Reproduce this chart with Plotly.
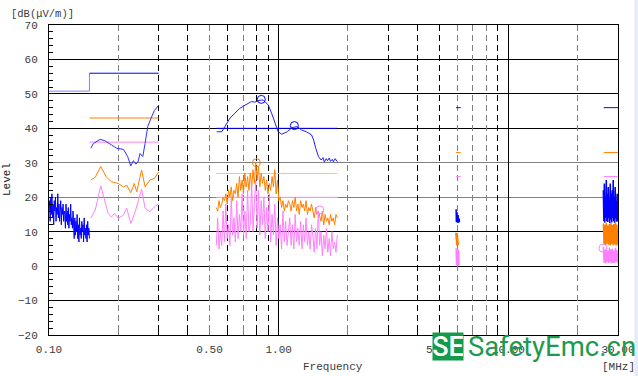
import numpy as np
import plotly.graph_objects as go

# ---------------- data ----------------
# Band A: 0.10 - 0.15 MHz, peak detector sweep (blue)
band_a_range = [0.100, 0.150]
peak_a = [16, 19, 13, 20, 15, 21, 14, 18, 12, 19, 16, 20, 13, 17, 15, 21, 14, 18, 13, 16,
          19, 12, 17, 15, 18, 13, 16,
          15, 11, 18, 13, 16, 12, 17, 11, 15, 13, 18, 12, 14, 11, 16,
          12, 8, 14, 9, 13, 10, 15, 8, 12, 7, 14, 9, 11, 8, 13, 10, 12, 7, 14, 9, 11, 8,
          12, 7, 13, 9, 11, 8]

# Band B: 0.15 - 0.30 MHz
peak_b_freq = [0.152, 0.156, 0.167, 0.175, 0.187, 0.197, 0.211, 0.220, 0.227, 0.233,
               0.239, 0.244, 0.249, 0.256, 0.262, 0.269, 0.278, 0.287, 0.301]
peak_b = [34.2, 35.6, 36.8, 36.4, 35.2, 34.2, 33.9, 31.8, 29.1, 30.6,
          29.6, 30.2, 32.7, 31.8, 35.6, 40.5, 42.9, 45.1, 46.8]
qp_b_freq = [0.152, 0.159, 0.168, 0.178, 0.187, 0.200, 0.211, 0.218, 0.227, 0.235,
             0.241, 0.253, 0.262, 0.275, 0.288, 0.301]
qp_b = [25.0, 25.8, 28.9, 25.8, 24.5, 24.0, 23.0, 23.5, 21.3, 24.0,
        21.6, 27.9, 23.0, 25.0, 25.5, 27.4]
avg_b_freq = [0.152, 0.159, 0.168, 0.174, 0.181, 0.187, 0.193, 0.200, 0.211, 0.218,
              0.227, 0.236, 0.246, 0.253, 0.262, 0.275, 0.288, 0.301]
avg_b = [13.9, 16.3, 23.3, 19.2, 15.3, 14.2, 15.3, 13.9, 14.8, 16.8,
         12.4, 15.3, 19.2, 22.3, 16.8, 15.8, 17.2, 18.2]

# Band C: 0.535 - 1.8 MHz
peak_c_freq = [0.537, 0.565, 0.583, 0.613, 0.644, 0.677, 0.713, 0.762, 0.787, 0.829,
               0.858, 0.900, 0.931, 0.962, 0.995, 1.03, 1.09, 1.14, 1.20, 1.26,
               1.32, 1.39, 1.42, 1.45, 1.49, 1.53, 1.56, 1.58, 1.61, 1.63,
               1.66, 1.68, 1.71, 1.73, 1.76, 1.80]
peak_c = [39.0, 39.0, 40.5, 42.9, 44.4, 45.8, 46.7, 47.8, 47.6, 48.2,
          48.2, 46.8, 44.4, 41.5, 39.0, 38.3, 39.0, 40.2, 40.5, 39.5,
          39.0, 38.1, 36.6, 34.2, 31.8, 30.8, 31.5, 30.2, 31.2, 30.6,
          31.4, 30.4, 31.0, 30.3, 31.2, 30.3]
band_c_range = [0.535, 1.80]
qp_c = [17, 16, 19, 17, 18, 20,
        19, 21, 18, 22, 20, 23, 19, 22, 21,
        24, 20, 26, 22, 25, 21, 27, 23, 26, 22,
        27, 23, 28, 24, 30,
        25, 29, 23, 27, 24,
        26, 22, 25, 21, 24, 22, 26, 23,
        28, 21, 25, 19,
        20, 17, 19, 16, 18, 17, 19,
        18, 16, 19, 17, 20, 16, 18, 15, 19, 17, 18, 16, 19, 15, 17, 16, 18,
        16, 14, 17, 15, 16,
        14, 13, 16, 12, 15, 13, 14, 12, 15, 13, 14, 12, 15, 14]
avg_c = [6, 14, 5, 10, 6, 16,
         7, 18, 8, 12, 6, 20, 9, 14, 7,
         19, 8, 15, 10, 21, 9, 16, 8, 22, 10,
         12, 24, 10, 18, 25,
         11, 22, 9, 19, 12,
         20, 8, 17, 10, 21, 7, 15, 9,
         18, 6, 14, 8,
         12, 5, 16, 7, 13, 6, 11,
         14, 6, 12, 5, 15, 7, 11, 6, 13, 5, 12, 7, 14, 6, 10, 5, 12,
         9, 4, 11, 5, 16,
         6, 10, 3, 9, 5, 11, 4, 8, 3, 10, 5, 7, 4, 9]

# Band D: around 6 MHz
peak_d_range = [5.92, 6.12]
peak_d = [16.5, 12.8, 16.0, 13.2, 15.6, 12.6, 15.2, 13.4, 14.8, 12.6, 14.4, 13.0, 13.8, 12.8]
qp_d_range = [5.90, 6.05]
qp_d = [9.7, 6.2, 9.5, 6.0, 9.6, 6.3, 9.4, 6.1]
avg_d_range = [5.92, 6.10]
avg_d = [5.2, 0.2, 4.8, 0.3, 5.0, 0.1, 4.6, 0.2]

# Band E: 26 - 30 MHz
band_e_range = [25.9, 29.9]
peak_e = [22, 13, 24, 12.6, 20, 14, 25, 13, 21, 12.8, 23, 14, 19, 12.5, 24,
          13.5, 21, 12.7, 22, 14, 25, 13, 20, 12.6, 23, 13.8, 19, 12.9, 21, 13]
qp_e = [12.4, 6.3, 12.0, 6.1, 12.6, 6.5, 11.8, 6.2, 12.3, 6.0,
        12.5, 6.4, 11.9, 6.1, 12.2, 6.3, 12.6, 6.0, 12.1, 6.2]
avg_e = [5.6, 1.0, 4.8, 0.8, 5.2, 1.2, 4.5, 0.9, 5.4, 1.1,
         4.9, 0.8, 5.0, 1.0, 4.6, 0.9, 5.3, 1.2, 4.7, 1.0]

# Limit lines
lim_low_freq = [0.10, 0.15, 0.15]
lim_low = [50.8, 50.8, 56.0]
lim_start = [0.15, 0.535, 5.92, 26.0]
lim_stop = [0.30, 1.80, 6.20, 30.0]
lim_peak = [56.0, 40.0, 46.0, 46.0]
lim_qp = [43.0, 26.9, 33.0, 33.0]
lim_avg = [36.0, 20.0, 26.0, 26.0]

# Final measurement markers
mk_peak_freq = [0.84, 1.17]
mk_peak = [48.4, 40.8]
mk_qp_freq = [0.80]
mk_qp = [30.0]
mk_avg_freq = [1.51, 25.8]
mk_avg = [16.3, 5.2]

# Axis
x_tick_vals = [0.1, 0.5, 1, 5, 10, 30]
x_tick_text = ["0.10", "0.50", "1.00", "5.00", "10.00", "30.00"]
grid_solid_x = [1, 10]
grid_dash_black_x = [0.3, 0.4, 0.6, 0.8, 0.9, 3, 4, 5, 9]
grid_dash_gray_x = [0.2, 0.5, 0.7, 2, 6, 7, 8, 20]
grid_black_y = [-10, 0, 10, 40, 50, 60]
grid_gray_y = [20, 30]

# ---------------- figure ----------------
BLUE = "#0000ff"
ORANGE = "#ff8000"
PINK = "#ff80ff"
MONO = "Liberation Mono"
TXT = "#3a3a3a"

fig = go.Figure()


def line(x, y, color, width=1, **kw):
    fig.add_trace(go.Scatter(x=x, y=y, mode="lines", line=dict(color=color, width=width),
                             hoverinfo="skip", showlegend=False, **kw))


def sweep(rng, vals):
    return np.geomspace(rng[0], rng[1], len(vals))


# limit lines
line(lim_low_freq, lim_low, "#8080ff")
lim_colors_peak = [BLUE, BLUE, BLUE, BLUE]
lim_colors_qp = [ORANGE, "#ffc080", ORANGE, ORANGE]
lim_colors_avg = [PINK, "#ffb8ff", PINK, PINK]
for i in range(len(lim_start)):
    line([lim_start[i], lim_stop[i]], [lim_peak[i]] * 2, lim_colors_peak[i])
    line([lim_start[i], lim_stop[i]], [lim_qp[i]] * 2, lim_colors_qp[i])
    line([lim_start[i], lim_stop[i]], [lim_avg[i]] * 2, lim_colors_avg[i])

# measurement traces (blue, then orange, then pink)
line(sweep(band_a_range, peak_a), peak_a, BLUE)
line(peak_b_freq, peak_b, "#3030ff")
line(peak_c_freq, peak_c, "#2020ff")
line(sweep(peak_d_range, peak_d), peak_d, BLUE, 1.5)
line(sweep(band_e_range, peak_e), peak_e, BLUE, 1.5)

line(qp_b_freq, qp_b, ORANGE)
line(sweep(band_c_range, qp_c), qp_c, ORANGE)
line(sweep(qp_d_range, qp_d), qp_d, ORANGE, 1.5)
line(sweep(band_e_range, qp_e), qp_e, ORANGE, 1.5)

line(avg_b_freq, avg_b, PINK)
line(sweep(band_c_range, avg_c), avg_c, PINK)
line(sweep(avg_d_range, avg_d), avg_d, PINK, 1.5)
line(sweep(band_e_range, avg_e), avg_e, PINK, 1.5)

for fx, fy, c in [(mk_peak_freq, mk_peak, BLUE), (mk_qp_freq, mk_qp, ORANGE), (mk_avg_freq, mk_avg, PINK)]:
    fig.add_trace(go.Scatter(x=fx, y=fy, mode="markers",
                             marker=dict(symbol="circle-open", size=8, color=c, line=dict(width=1, color=c)),
                             hoverinfo="skip", showlegend=False))

# dummy traces so overlay grid axes are drawn
for xa, ya in [("x2", "y"), ("x3", "y"), ("x4", "y"), ("x", "y2"), ("x", "y3")]:
    fig.add_trace(go.Scatter(x=[1], y=[0], xaxis=xa, yaxis=ya, mode="markers",
                             marker=dict(opacity=0), hoverinfo="skip", showlegend=False))

xr = [-1, float(np.log10(30))]
base_x = dict(type="log", range=xr, zeroline=False, fixedrange=True, automargin=False)
base_y = dict(range=[-20, 70], zeroline=False, fixedrange=True, automargin=False)
fig.update_layout(
    width=638, height=376,
    margin=dict(l=49, r=20, t=25, b=41, autoexpand=False),
    paper_bgcolor="white", plot_bgcolor="white",
    xaxis=dict(**base_x, tickmode="array", tickvals=x_tick_vals, ticktext=x_tick_text,
               showgrid=False, showline=True, mirror=True, linecolor="black", linewidth=1,
               ticks="", ticklabelstandoff=4, tickfont=dict(family=MONO, size=11, color=TXT)),
    xaxis2=dict(**base_x, overlaying="x", tickmode="array", tickvals=grid_solid_x,
                showticklabels=False, showgrid=True, gridcolor="black", gridwidth=1, ticks=""),
    xaxis3=dict(**base_x, overlaying="x", tickmode="array", tickvals=grid_dash_black_x,
                showticklabels=False, showgrid=True, gridcolor="black", gridwidth=1,
                griddash="6px,4px", ticks="inside", ticklen=4, tickcolor="black"),
    xaxis4=dict(**base_x, overlaying="x", tickmode="array", tickvals=grid_dash_gray_x,
                showticklabels=False, showgrid=True, gridcolor="#808080", gridwidth=1,
                griddash="6px,4px", ticks="inside", ticklen=4, tickcolor="#808080"),
    yaxis=dict(**base_y, tickmode="linear", tick0=0, dtick=10, showgrid=False,
               showline=True, mirror=True, linecolor="black", linewidth=1,
               ticks="inside", ticklen=4, tickcolor="black", ticklabelstandoff=8,
               minor=dict(tickmode="linear", tick0=0, dtick=2, ticks="inside", ticklen=4,
                          tickcolor="black", showgrid=False),
               tickfont=dict(family=MONO, size=11, color=TXT)),
    yaxis2=dict(**base_y, overlaying="y", tickmode="array", tickvals=grid_black_y,
                showticklabels=False, showgrid=True, gridcolor="black", gridwidth=1, ticks=""),
    yaxis3=dict(**base_y, overlaying="y", tickmode="array", tickvals=grid_gray_y,
                showticklabels=False, showgrid=True, gridcolor="#808080", gridwidth=1, ticks=""),
    showlegend=False,
)

W, H = 569.0, 310.0


def px(x):
    return (x - 49) / W


def py(y):
    return (335 - y) / H


annots = [
    dict(text="[dB(\u03bcV/m)]", x=px(9), y=py(14), xanchor="left", yanchor="middle",
         font=dict(family=MONO, size=10.5, color=TXT)),
    dict(text="Level", x=px(7), y=py(180), xanchor="center", yanchor="middle", textangle=-90,
         font=dict(family=MONO, size=11, color="#202020")),
    dict(text="Frequency", x=px(333), y=py(367), xanchor="center", yanchor="middle",
         font=dict(family=MONO, size=11, color=TXT)),
    dict(text="[MHz]", x=px(618), y=py(367), xanchor="center", yanchor="middle",
         font=dict(family=MONO, size=11, color=TXT)),
    dict(text="SE", x=px(448), y=py(346.3), xanchor="center", yanchor="middle",
         width=30, height=27, bgcolor="#159a4a", borderpad=0,
         font=dict(family="Roboto", size=27, weight=500, color="white")),
    dict(text="SafetyEmc.cn", x=px(467), y=py(346), xanchor="left", yanchor="middle",
         borderpad=0, font=dict(family="Roboto", size=27.5, weight=400, color="#1e9a4e")),
]
for a in annots:
    a.update(xref="paper", yref="paper", showarrow=False)
    fig.add_annotation(**a)

fig.add_shape(type="rect", xref="paper", yref="paper", x0=px(634.5), x1=px(640),
              y0=py(380), y1=py(-5), fillcolor="#e3ecf7", line=dict(width=0), layer="below")

fig.write_html("out.html", config={"displayModeBar": False},
               post_script="document.body.style.margin='0';document.body.style.overflow='hidden';")
